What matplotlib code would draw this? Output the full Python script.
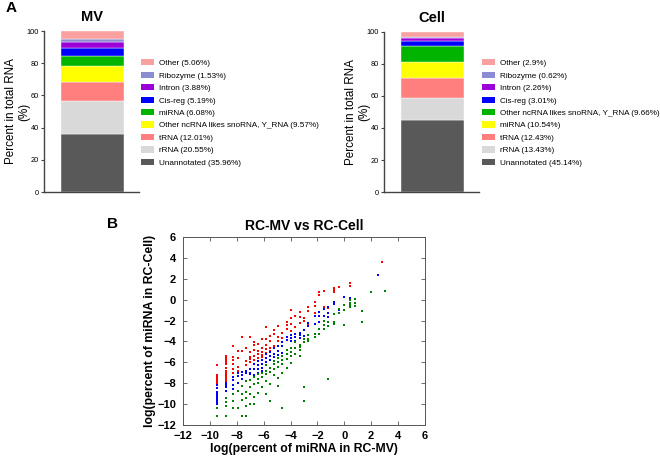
import matplotlib
matplotlib.use("Agg")
import matplotlib.pyplot as plt
from matplotlib.patches import Patch

plt.rcParams['font.family'] = ['Liberation Sans', 'DejaVu Sans']

# ---------------- Panel A data ----------------
mv_labels = ["Unannotated (35.96%)", "rRNA (20.55%)", "tRNA (12.01%)",
             "Other ncRNA likes snoRNA, Y_RNA (9.57%)", "miRNA (6.08%)",
             "Cis-reg (5.19%)", "Intron (3.88%)", "Ribozyme (1.53%)", "Other (5.06%)"]
mv_values = [35.96, 20.55, 12.01, 9.57, 6.08, 5.19, 3.88, 1.53, 5.06]

cell_labels = ["Unannotated (45.14%)", "rRNA (13.43%)", "tRNA (12.43%)",
               "miRNA (10.54%)", "Other ncRNA likes snoRNA, Y_RNA (9.66%)",
               "Cis-reg (3.01%)", "Intron (2.26%)", "Ribozyme (0.62%)", "Other (2.9%)"]
cell_values = [45.14, 13.43, 12.43, 10.54, 9.66, 3.01, 2.26, 0.62, 2.9]

stack_colors = ["#595959", "#d9d9d9", "#ff7f7f", "#ffff00", "#00b400",
                "#0000ff", "#9b00d9", "#8c8cd2", "#f9a0a0"]

# ---------------- Panel B data ----------------
red_x = [2.8, 0.4, 0.4, -0.4, -0.8, -0.8, -0.8, -1.2, -1.5, -1.5, -1.9, -1.9,
         -2.2, -2.2, -2.2, -2.7, -2.7, -2.7, -3.0, -3.0, -3.3, -3.3, -3.3, -3.7, -3.7,
         -4.0, -4.0, -4.0, -4.0, -4.3, -4.3, -4.3, -4.6, -4.6, -4.9, -4.9, -4.9,
         -5.2, -5.2, -5.2, -5.5, -5.5, -5.5, -5.5, -5.8, -5.8, -5.8, -5.8, -5.8,
         -6.1, -6.1, -6.1, -6.1, -6.1, -6.4, -6.4, -6.4, -6.4, -6.7, -6.7, -6.7, -6.7, -6.7,
         -7.0, -7.0, -7.0, -7.0, -7.0, -7.3, -7.3, -7.3, -7.6, -7.6,
         -7.9, -7.9, -7.9, -7.9, -8.3, -8.3, -8.3, -8.3, -8.3, -8.3,
         -8.8, -8.8, -8.8, -8.8, -8.8, -8.8, -8.8, -8.8, -8.8, -8.8, -8.8, -8.8,
         -9.5, -9.5, -9.5, -9.5, -9.5, -9.5]
red_y = [3.6, 1.6, 1.3, 1.2, 0.7, 0.9, 1.1, -0.8, 0.8, -0.7, 0.4, 0.7,
         -0.2, -0.6, -1.3, -0.7, -1.1, -2.3, -1.8, -2.0, -1.2, -1.7, -2.2, -1.6, -2.6,
         -1.0, -1.8, -2.3, -3.0, -2.1, -2.4, -2.8, -3.2, -3.7, -2.5, -3.6, -4.0,
         -2.9, -3.3, -4.4, -3.5, -4.0, -4.6, -4.9, -2.6, -3.8, -4.3, -4.7, -5.1,
         -3.8, -4.6, -5.0, -5.3, -5.5, -4.2, -4.9, -5.2, -5.6, -4.1, -4.3, -4.8, -5.4, -5.8,
         -3.6, -5.0, -5.5, -5.7, -6.0, -4.6, -5.9, -6.3, -3.6, -4.9,
         -4.9, -5.6, -6.4, -6.8, -4.4, -5.5, -5.8, -6.2, -6.6, -7.0,
         -5.4, -5.6, -5.8, -6.0, -6.2, -6.5, -6.8, -7.0, -7.2, -7.4, -7.6, -7.8,
         -6.3, -7.2, -7.4, -7.6, -7.8, -8.0]

blue_x = [2.5, 0.4, 0.4, 0.0, -0.4, -0.8, -0.8, -1.2, -1.2, -1.2, -1.5, -1.5,
          -1.9, -1.9, -1.9, -2.2, -2.2, -2.7, -2.7, -3.0, -3.0, -3.3, -3.3, -3.3,
          -3.7, -3.7, -3.7, -4.0, -4.0, -4.0, -4.3, -4.3, -4.6, -4.6, -4.6,
          -4.9, -4.9, -4.9, -5.2, -5.2, -5.2, -5.5, -5.5, -5.5, -5.8, -5.8, -5.8,
          -6.1, -6.1, -6.1, -6.1, -6.4, -6.4, -6.4, -6.4, -6.7, -6.7, -6.7,
          -7.0, -7.0, -7.0, -7.3, -7.3, -7.6, -7.6, -7.6, -7.9, -7.9, -7.9,
          -8.3, -8.3, -8.3, -8.3, -8.8, -8.8, -8.8, -8.8,
          -9.5, -9.5, -9.5, -9.5, -9.5, -9.5, -9.5, -9.5, -9.5]
blue_y = [2.4, 0.2, 0.0, 0.3, -1.0, -0.2, -0.4, -0.7, -1.3, -1.7, -0.9, -1.6,
          -1.2, -1.6, -2.1, -1.6, -2.3, -2.2, -2.5, -2.9, -3.5, -3.2, -3.4, -3.7,
          -3.3, -3.6, -4.0, -3.4, -3.7, -4.0, -3.6, -3.9, -4.1, -4.4, -5.1,
          -4.4, -4.9, -5.3, -4.6, -5.2, -5.5, -5.0, -5.4, -5.8, -5.2, -5.6, -6.0,
          -5.8, -6.2, -6.5, -6.8, -5.9, -6.3, -6.6, -7.0, -6.2, -6.6, -7.2,
          -6.6, -7.0, -7.1, -6.8, -7.0, -6.9, -7.2, -7.6, -7.0, -7.3, -8.0,
          -7.4, -7.7, -8.2, -8.6, -8.0, -8.2, -8.4, -8.7,
          -8.2, -8.5, -8.8, -9.0, -9.2, -9.4, -9.6, -9.8, -10.0]

green_x = [3.0, 2.0, 1.3, 1.3, 0.8, 0.8, 0.8, 0.4, 0.4, 0.4, 0.4, 0.0, 0.0, 0.0,
           -0.4, -0.4, -0.8, -0.8, -0.8, -1.2, -1.2, -1.2, -1.5, -1.5, -1.5,
           -1.9, -1.9, -2.2, -2.2, -2.7, -2.7, -2.7, -3.0, -3.0, -3.0, -3.0,
           -3.3, -3.3, -3.3, -3.3, -3.7, -3.7, -3.7, -4.0, -4.0, -4.0, -4.0,
           -4.3, -4.3, -4.3, -4.3, -4.6, -4.6, -4.6, -4.6, -4.6,
           -4.9, -4.9, -4.9, -4.9, -4.9, -5.2, -5.2, -5.2, -5.2,
           -5.5, -5.5, -5.5, -5.5, -5.8, -5.8, -5.8, -5.8, -5.8,
           -6.1, -6.1, -6.1, -6.4, -6.4, -6.4, -6.4, -6.7, -6.7, -6.7, -6.7,
           -7.0, -7.0, -7.0, -7.0, -7.3, -7.3, -7.3, -7.3, -7.3,
           -7.6, -7.6, -7.6, -7.6, -7.9, -7.9, -8.3, -8.3, -8.3,
           -8.8, -8.8, -8.8, -8.8, -9.5, -9.5]
green_y = [0.8, 0.7, -1.1, -2.1, 0.1, -0.3, -0.6, -0.3, -0.5, -0.7, 0.0, -0.5, -1.0, -2.4,
           -0.9, -1.3, -1.4, -2.1, -2.3, -2.1, -2.5, -7.6, -2.0, -2.4, -2.8,
           -2.8, -3.3, -3.3, -3.6, -3.4, -3.8, -4.0, -3.8, -4.1, -8.4, -9.7,
           -4.3, -4.5, -4.8, -5.4, -4.1, -4.6, -5.2, -4.6, -5.0, -5.4, -6.1,
           -4.8, -5.2, -5.7, -6.5, -5.4, -5.8, -6.2, -7.0, -10.4,
           -5.6, -6.0, -6.4, -7.5, -8.3, -5.9, -6.2, -6.6, -7.2,
           -6.5, -6.9, -8.1, -9.7, -6.3, -6.8, -7.1, -7.8, -9.0,
           -7.0, -7.4, -8.4, -7.1, -7.6, -8.0, -8.9, -7.4, -8.1, -9.3, -10.0,
           -7.7, -8.4, -9.0, -10.0, -7.8, -8.8, -9.4, -10.2, -11.1,
           -8.3, -9.0, -9.6, -11.1, -8.7, -10.4, -9.0, -9.7, -10.4,
           -9.4, -9.8, -10.2, -11.1, -10.4, -11.1]

B_ticks = [-12, -10, -8, -6, -4, -2, 0, 2, 4, 6]

W, H = 660, 459
fig = plt.figure(figsize=(W / 100, H / 100), dpi=100)


def frac(x0, y0, x1, y1):
    return [x0 / W, 1 - y1 / H, (x1 - x0) / W, (y1 - y0) / H]


def bar_panel(rect, title, values, labels, leg_x):
    ax = fig.add_axes(rect)
    bottom = 0
    handles = []
    for v, c, lab in zip(values, stack_colors, labels):
        ax.bar([0.51], [v], width=0.66, bottom=bottom, color=c,
               edgecolor="white", linewidth=0.3)
        bottom += v
        handles.append(Patch(facecolor=c, edgecolor="none", label=lab))
    ax.set_xlim(0, 1)
    ax.set_ylim(0, 100)
    ax.set_yticks([0, 20, 40, 60, 80, 100])
    ax.set_xticks([])
    for s in ["top", "right"]:
        ax.spines[s].set_visible(False)
    for s in ["left", "bottom"]:
        ax.spines[s].set_color("#444444")
        ax.spines[s].set_linewidth(1.0)
    ax.tick_params(axis="y", labelsize=5.3, length=2.5, width=0.8,
                   color="#444444", pad=1.2)
    ax.set_title(title, fontsize=10.5, fontweight="bold", pad=7)
    ax.set_ylabel("Percent in total RNA\n(%)", fontsize=8.4,
                  linespacing=1.15)
    ax.yaxis.set_label_coords(-0.14, 0.5)
    fig.legend(handles=handles[::-1], loc="center left",
               bbox_to_anchor=(leg_x / W, 1 - 113 / H), frameon=False,
               fontsize=5.9, handlelength=1.55, handleheight=0.8,
               handletextpad=0.6, labelspacing=0.55, borderaxespad=0,
               borderpad=0)
    return ax


bar_panel(frac(44, 31, 139, 192), "MV", mv_values, mv_labels, 141)
bar_panel(frac(384, 32, 479, 192), "Cell", cell_values, cell_labels, 482)

fig.text(6 / W, 1 - 12 / H, "A", fontsize=11, fontweight="bold")
fig.text(107 / W, 1 - 228 / H, "B", fontsize=11, fontweight="bold")

# ---------------- Panel B ----------------
axb = fig.add_axes(frac(183, 237, 425, 425))
ms = 1.9
axb.plot(red_x, red_y, "s", color="red", ms=ms, mew=0, linestyle="none")
axb.plot(blue_x, blue_y, "s", color="blue", ms=ms, mew=0, linestyle="none")
axb.plot(green_x, green_y, "s", color="#008000", ms=ms, mew=0, linestyle="none")
axb.set_xlim(-12, 6)
axb.set_ylim(-12, 6)
axb.set_xticks(B_ticks)
axb.set_yticks(B_ticks)
axb.tick_params(direction="in", top=True, right=True, length=3, width=0.6,
                labelsize=8, color="#555555")
axb.tick_params(axis="x", pad=4)
axb.tick_params(axis="y", pad=5)
for lab in axb.get_xticklabels() + axb.get_yticklabels():
    lab.set_fontweight("bold")
for s in axb.spines.values():
    s.set_linewidth(0.7)
    s.set_color("#555555")
axb.set_title("RC-MV vs RC-Cell", fontsize=10, fontweight="bold", pad=5)
axb.set_xlabel("log(percent of miRNA in RC-MV)", fontsize=8.8,
               fontweight="bold", labelpad=2)
axb.set_ylabel("log(percent of miRNA in RC-Cell)", fontsize=8.8,
               fontweight="bold", labelpad=1)

fig.savefig("out.png", dpi=100)
